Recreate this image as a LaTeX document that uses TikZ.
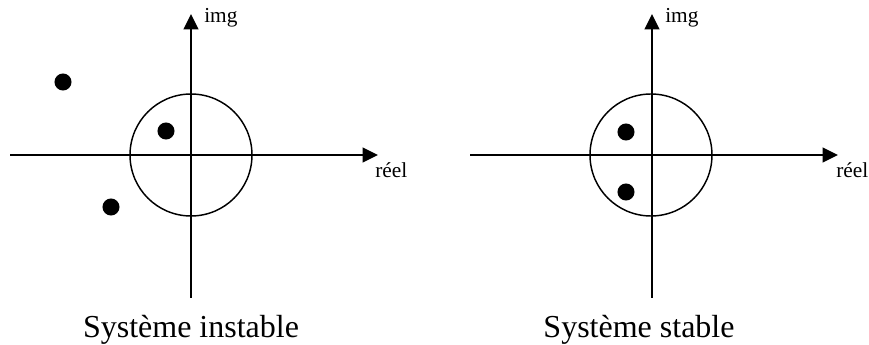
\documentclass[tikz,border=0pt]{standalone}
\usepackage{fontspec}
\setmainfont{Liberation Serif}
\usetikzlibrary{arrows.meta}
\begin{document}
\begin{tikzpicture}[x=0.75pt,y=-0.75pt,
  axis/.style={line width=1.7pt,-{Triangle[length=11.5pt,width=11pt]}},
  unitcircle/.style={line width=1.1pt},
  pole/.style={circle,fill=black,inner sep=0pt,minimum size=12.8pt},
  axlabel/.style={font=\fontsize{16}{18}\selectfont,inner sep=0pt,anchor=base west},
  caption/.style={font=\fontsize{24}{28}\selectfont,inner sep=0pt,anchor=base}]
\useasboundingbox (0,0) rectangle (869,345);

% --- unstable system ---
\coordinate (o1) at (191,155);
\coordinate (x1s) at (10,155);
\coordinate (x1e) at (378,155);
\coordinate (y1s) at (191,298);
\coordinate (y1e) at (191,14);
\draw[unitcircle] (o1) circle[radius=61];
\draw[axis] (x1s) -- (x1e);
\draw[axis] (y1s) -- (y1e);
\node[axlabel] (img1) at (204,22.5) {img};
\node[axlabel] (re1) at (375,178) {réel};
\node[pole] (p1a) at (63,82) {};
\node[pole] (p1b) at (166,131) {};
\node[pole] (p1c) at (111,207) {};
\node[caption] (cap1) at (191,337.5) {Système instable};

% --- stable system ---
\coordinate (o2) at (651,155);
\coordinate (x2s) at (470,155);
\coordinate (x2e) at (838,155);
\coordinate (y2s) at (652,298);
\coordinate (y2e) at (652,14);
\draw[unitcircle] (o2) circle[radius=61];
\draw[axis] (x2s) -- (x2e);
\draw[axis] (y2s) -- (y2e);
\node[axlabel] (img2) at (665,22.5) {img};
\node[axlabel] (re2) at (836,178) {réel};
\node[pole] (p2a) at (626,132) {};
\node[pole] (p2b) at (626,192) {};
\node[caption] (cap2) at (639,337.5) {Système stable};
\end{tikzpicture}
\end{document}
